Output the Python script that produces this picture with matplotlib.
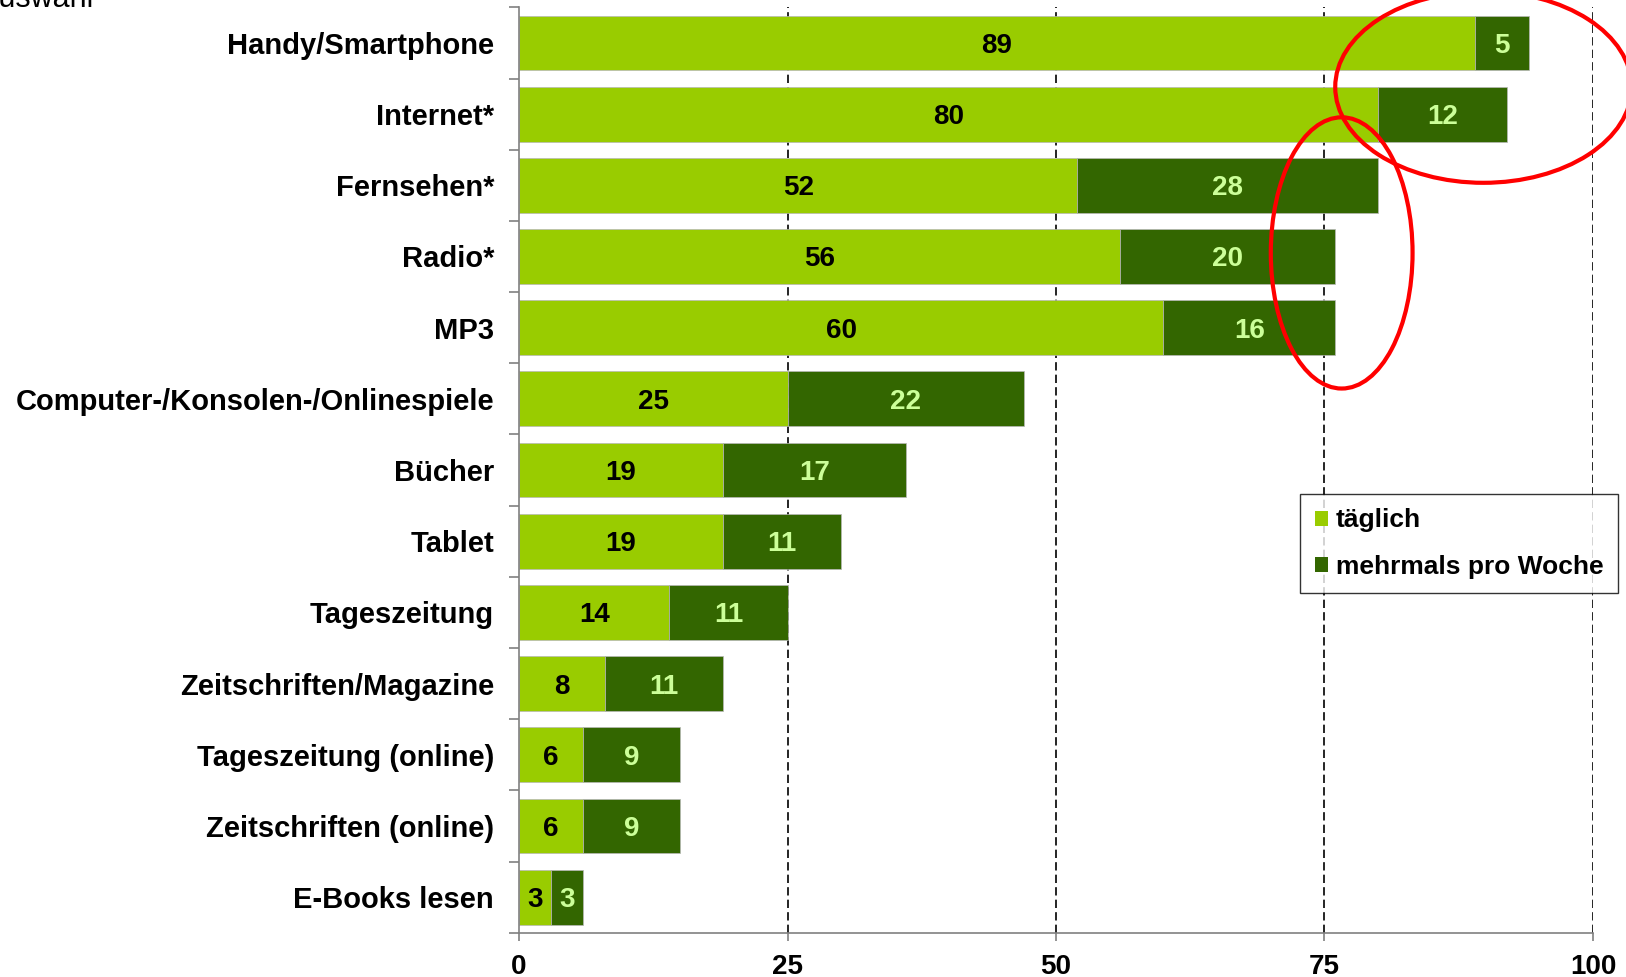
import matplotlib
matplotlib.use("Agg")
import matplotlib.pyplot as plt
from matplotlib.patches import Ellipse, Patch
import numpy as np

plt.rcParams['font.family'] = ['Liberation Sans', 'DejaVu Sans']

# Nutzungshäufigkeit der Medien (in %)
categories = ["Handy/Smartphone", "Internet*", "Fernsehen*", "Radio*", "MP3",
              "Computer-/Konsolen-/Onlinespiele", "Bücher", "Tablet",
              "Tageszeitung", "Zeitschriften/Magazine", "Tageszeitung (online)",
              "Zeitschriften (online)", "E-Books lesen"]
taeglich = [89, 80, 52, 56, 60, 25, 19, 19, 14, 8, 6, 6, 3]
mehrmals = [5, 12, 28, 20, 16, 22, 17, 11, 11, 11, 9, 9, 3]
series_names = ["täglich", "mehrmals pro Woche"]
xticks = [0, 25, 50, 75, 100]

light = "#99CC00"
dark = "#336600"
pale = "#CCFF99"

fig = plt.figure(figsize=(16.26, 9.77), dpi=100)
ax = fig.add_axes([0.3192, 0.0453, 0.6605, 0.9472])

y = np.arange(len(categories))
t = np.array(taeglich)
m = np.array(mehrmals)

ax.barh(y, t, height=0.77, color=light, edgecolor="#b8b8b8", linewidth=0.5, zorder=2)
ax.barh(y, m, left=t, height=0.77, color=dark, edgecolor="#b8b8b8", linewidth=0.5, zorder=2)

# value labels centred in each segment
for i in range(len(categories)):
    ax.text(t[i] / 2, y[i], str(t[i]), ha="center", va="center_baseline",
            fontsize=20, fontweight="bold", color="black", zorder=3)
    ax.text(t[i] + m[i] / 2, y[i], str(m[i]), ha="center", va="center_baseline",
            fontsize=20, fontweight="bold", color=pale, zorder=3)

ax.set_xlim(0, 100)
ax.set_ylim(len(categories) - 0.5, -0.5)
ax.set_xticks(xticks)
ax.set_xticklabels([str(v) for v in xticks], fontsize=20, fontweight="bold")

# category labels sit between the boundary ticks
ax.set_yticks(y)
ax.set_yticklabels(categories, fontsize=21, fontweight="bold")
ax.tick_params(axis="y", length=0, pad=18)
ax.set_yticks(np.arange(-0.5, len(categories)), minor=True)
ax.tick_params(axis="y", which="minor", length=7, width=1.2, color="#808080")
ax.tick_params(axis="x", length=6, width=1.2, color="#808080", pad=9)

for v in xticks[1:]:
    ax.axvline(v, color="black", linestyle=(0, (5, 2.5)), linewidth=1.2, zorder=1)

for side in ["top", "right"]:
    ax.spines[side].set_visible(False)
for side in ["left", "bottom"]:
    ax.spines[side].set_color("#808080")
    ax.spines[side].set_linewidth(1.2)

handles = [Patch(facecolor=light), Patch(facecolor=dark)]
leg = fig.legend(handles, series_names, loc="upper left",
                 bbox_to_anchor=(0.7995, 0.4944), borderaxespad=0,
                 prop={"size": 19, "weight": "bold"}, frameon=True,
                 fancybox=False, edgecolor="black", handlelength=0.5,
                 handleheight=0.5, handletextpad=0.3, labelspacing=0.85,
                 borderpad=0.55)
leg.get_frame().set_linewidth(1.0)

# red highlight rings
ax.add_patch(Ellipse((89.8, 0.62), 27.6, 2.69, fill=False, edgecolor="red",
                     linewidth=3, clip_on=False, zorder=5))
ax.add_patch(Ellipse((76.6, 2.95), 13.2, 3.81, fill=False, edgecolor="red",
                     linewidth=3, clip_on=False, zorder=5))

fig.text(-0.013, 0.9931, "Auswahl", fontsize=22, va="baseline", ha="left")

fig.savefig("out.png", dpi=100)
